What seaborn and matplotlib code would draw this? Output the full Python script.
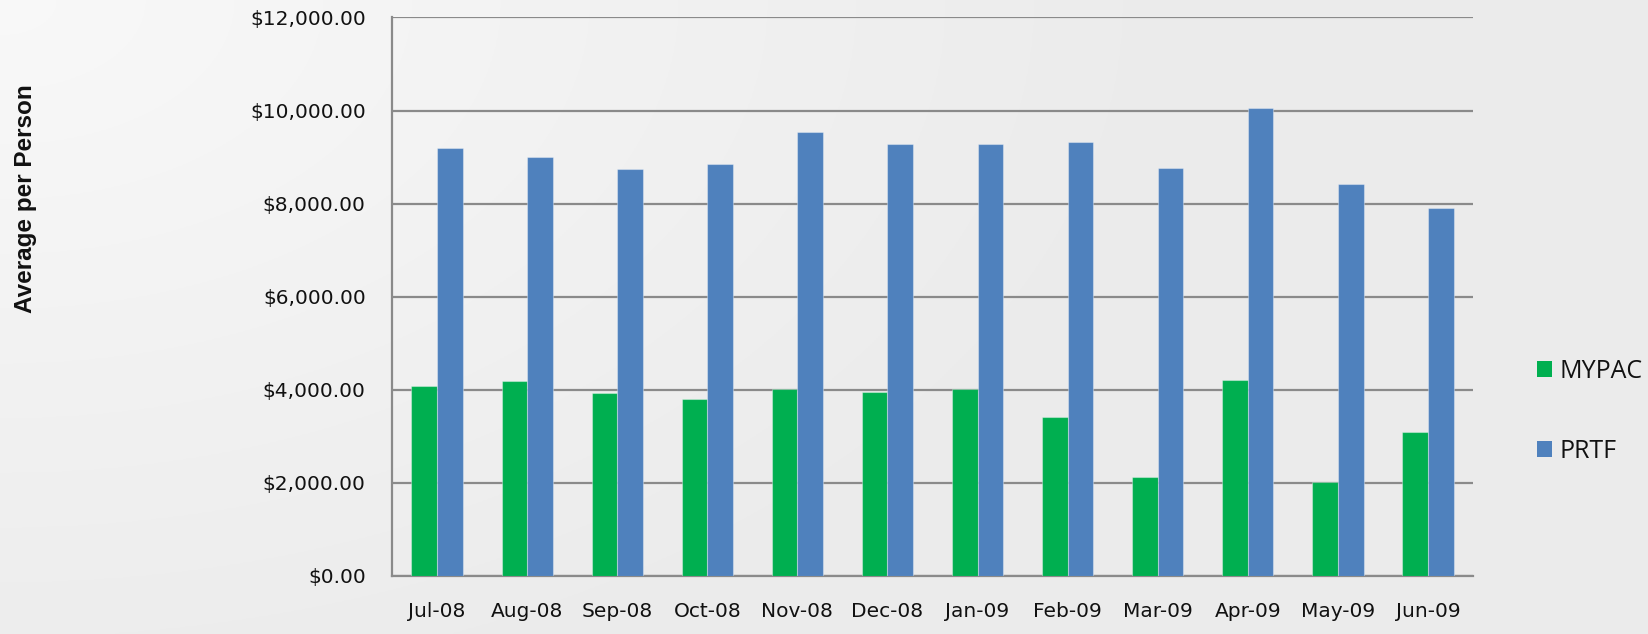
import numpy as np
import pandas as pd
import matplotlib
matplotlib.use("Agg")
import matplotlib.pyplot as plt
from matplotlib.patches import Patch
from matplotlib.font_manager import FontProperties
from matplotlib.ticker import FuncFormatter, MultipleLocator
import seaborn as sns

months = ["Jul-08", "Aug-08", "Sep-08", "Oct-08", "Nov-08", "Dec-08",
          "Jan-09", "Feb-09", "Mar-09", "Apr-09", "May-09", "Jun-09"]
mypac = [4080, 4190, 3930, 3800, 4010, 3950, 4010, 3420, 2130, 4210, 2010, 3090]
prtf = [9200, 9010, 8740, 8860, 9550, 9280, 9280, 9330, 8770, 10050, 8430, 7900]
series = ["MYPAC", "PRTF"]
colors = {"MYPAC": "#00AF50", "PRTF": "#4F81BD"}

df = pd.DataFrame({
    "Month": months * 2,
    "Value": mypac + prtf,
    "Series": ["MYPAC"] * len(months) + ["PRTF"] * len(months),
})

sns.set_theme(style="white")
plt.rcParams["font.family"] = ["DejaVu Sans"]

fig = plt.figure(figsize=(16.48, 6.34), dpi=100)

# soft grey backdrop, lighter toward the upper left
bg = fig.add_axes([0, 0, 1, 1], zorder=-10)
h, w = 317, 824
yy, xx = np.mgrid[0:h, 0:w]
d = np.sqrt((xx / w * 1.6) ** 2 + (yy / h * 1.0) ** 2)
shade = 0.975 - 0.05 * np.clip(d / 1.1, 0, 1)
img = np.dstack([shade, shade, shade])
bg.imshow(img, aspect="auto", extent=[0, 1, 0, 1], origin="upper")
bg.set_axis_off()

ax = fig.add_axes([0.2379, 0.0915, 0.6559, 0.8809])
ax.set_facecolor("none")

sns.barplot(data=df, x="Month", y="Value", hue="Series", order=months,
            hue_order=series, palette=colors, width=0.57, ax=ax,
            edgecolor=(1, 1, 1, 0.35), linewidth=0.8, saturation=1,
            legend=False, zorder=3)

ax.set_ylim(0, 12000)
ax.set_xlim(-0.5, len(months) - 0.5)
ax.yaxis.set_major_locator(MultipleLocator(2000))
ax.yaxis.set_major_formatter(FuncFormatter(lambda v, p: f"${v:,.2f}"))
ax.grid(axis="y", color="#8a8a8a", linewidth=1.6, zorder=0)
ax.set_axisbelow(True)

for side in ["top", "right"]:
    ax.spines[side].set_visible(False)
for side in ["left", "bottom"]:
    ax.spines[side].set_color("#8a8a8a")
    ax.spines[side].set_linewidth(1.6)

ax.tick_params(axis="y", length=0, pad=19, labelsize=14.5, labelcolor="#111111")
ax.tick_params(axis="x", length=0, pad=19, labelsize=14.5, labelcolor="#111111")
ax.set_xlabel("")
ax.set_ylabel("")

fig.text(26 / 1648, 1 - 199 / 634, "Average per Person", rotation=90,
         ha="center", va="center", fontsize=17.5, fontweight="bold",
         family=["Liberation Sans", "DejaVu Sans"], color="#111111")

handles = [Patch(facecolor=colors[s], edgecolor="none", label=s) for s in series]
legend_font = FontProperties(family=["Open Sans", "DejaVu Sans"], size=18)
leg = fig.legend(handles=handles, loc="center left",
                 bbox_to_anchor=(1537 / 1648, 1 - 411 / 634),
                 frameon=False, prop=legend_font, labelspacing=2.2,
                 handlelength=0.6, handleheight=0.6, handletextpad=0.3,
                 borderaxespad=0, borderpad=0)
for t in leg.get_texts():
    t.set_color("#111111")

fig.savefig("out.png", dpi=100)
